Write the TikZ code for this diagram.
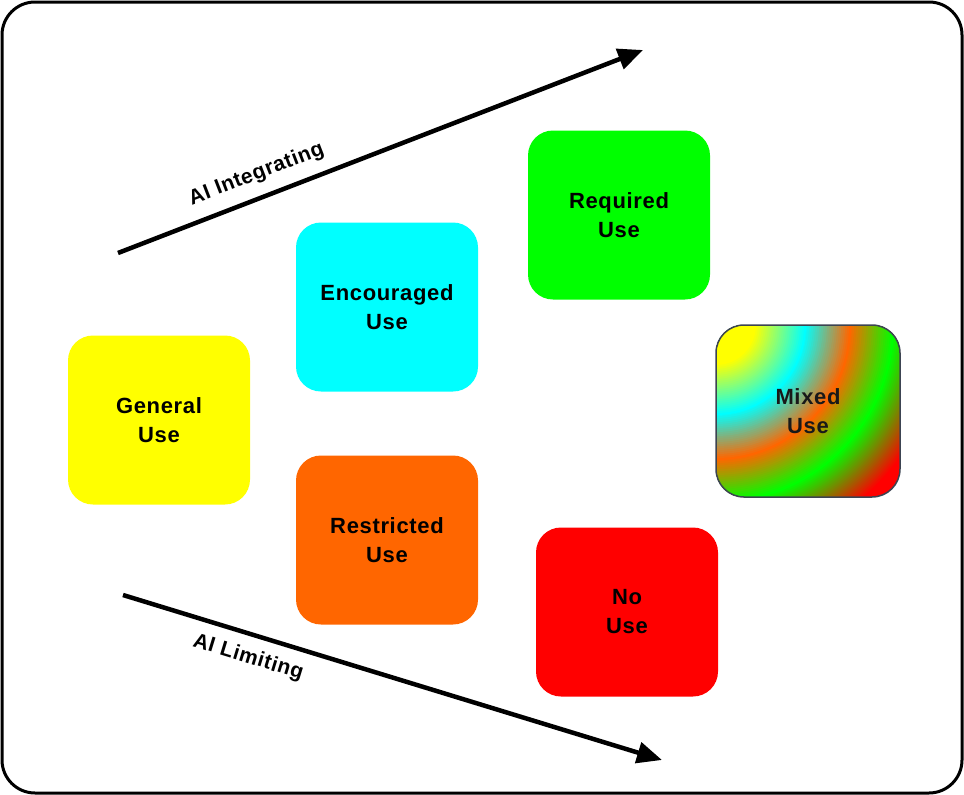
\documentclass[tikz,border=0pt]{standalone}
\usepackage{fontspec}
\setmainfont{Liberation Sans}
\newfontfamily\usagefont[LetterSpace=3]{Liberation Sans}
\usetikzlibrary{arrows.meta}
\definecolor{gyellow}{HTML}{FFFF00}
\definecolor{gcyan}{HTML}{00FFFF}
\definecolor{ggreen}{HTML}{00FF00}
\definecolor{gorange}{HTML}{FF6600}
\definecolor{gred}{HTML}{FF0000}
\definecolor{mixedline}{HTML}{3C4452}

\begin{document}
\begin{tikzpicture}[x=1pt,y=-1pt,
		usebox/.style={rounded corners=25pt, minimum width=182pt, minimum height=169pt,
			align=center, text=black, font=\usagefont\bfseries\fontsize{22}{29}\selectfont},
		trend/.style={line width=4.5pt, -{Triangle[length=25pt,width=21pt]}},
		trendlabel/.style={sloped, font=\usagefont\bfseries\fontsize{21}{24}\selectfont},]

\useasboundingbox (0,0) rectangle (964,795);
\draw[line width=3pt, rounded corners=33pt] (2,2) rectangle (962,793);

\node[usebox, fill=gyellow] (general) at (159,420) {General\\Use};
\node[usebox, fill=gcyan] (encouraged) at (387,307) {Encouraged\\Use};
\node[usebox, fill=ggreen] (required) at (619,215) {Required\\Use};
\node[usebox, fill=gorange] (restricted) at (387,540) {Restricted\\Use};
\node[usebox, fill=gred] (nouse) at (627,612) {No\\Use};

% mixed use: rings out from the top left corner
\coordinate (mixedcorner) at (716,325);
\begin{scope}
	\clip[rounded corners=28pt] (716,325) rectangle (900,497);
	\fill[gred] (716,325) rectangle (900,497);
	\foreach \ra/\rb/\ca/\cb in {178/228/ggreen/gred, 135/178/gorange/ggreen,
			90/135/gcyan/gorange, 40/90/gyellow/gcyan}{
		\pgfmathtruncatemacro\rnext{\rb-2}
		\foreach \r in {\rb,\rnext,...,\ra}{
			\pgfmathtruncatemacro\p{100*(\rb-\r)/(\rb-\ra)}
			\fill[\ca!\p!\cb] (mixedcorner) circle[radius=\r];
		}
	}
\end{scope}
\node[usebox, draw=mixedline, line width=1.5pt, rounded corners=28pt,
	minimum width=184pt, minimum height=172pt, text=black!90] (mixed) at (808,411) {Mixed\\Use};

\coordinate (upstart) at (118,253);
\coordinate (upend) at (643,50);
\coordinate (downstart) at (123,595);
\coordinate (downend) at (662,760);

\draw[trend] (upstart) -- (upend)
	node[trendlabel, pos=0.28, above=8pt] (integrating) {AI Integrating};
\draw[trend] (downstart) -- (downend)
	node[trendlabel, pos=0.245, below=8pt] (limiting) {AI Limiting};
\end{tikzpicture}
\end{document}
